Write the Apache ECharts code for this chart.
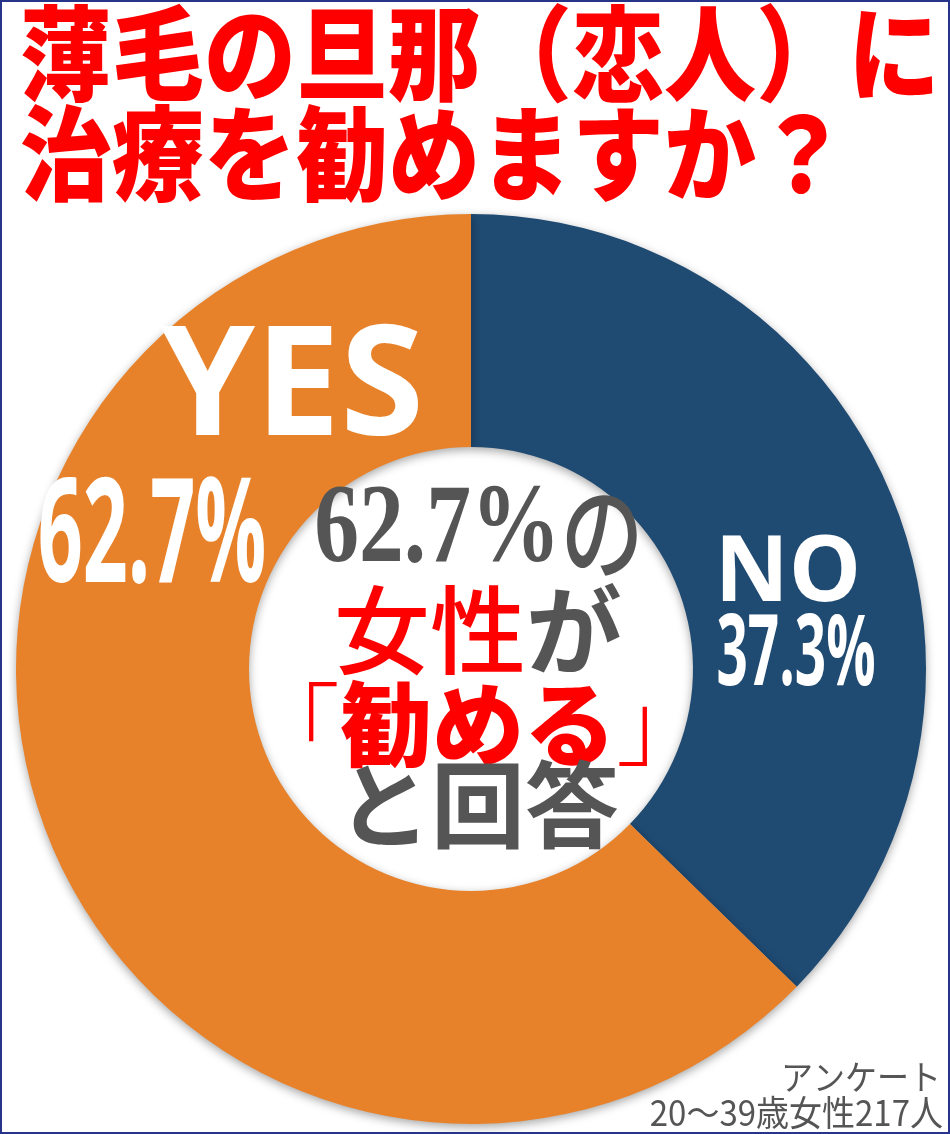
<!DOCTYPE html>
<html>
<head>
<meta charset="utf-8">
<script src="https://cdn.jsdelivr.net/npm/echarts@6/dist/echarts.min.js"></script>
<style>
  html, body { margin: 0; padding: 0; background: #fff; }
  #chart { width: 950px; height: 1134px; }
</style>
</head>
<body>
<div id="chart"></div>
<script>
// アンケート結果
const categories = ["NO", "YES"];
const values = [37.3, 62.7];
const sliceColors = ["#1f4a72", "#e8822a"];
const titleLines = ["薄毛の旦那（恋人）に", "治療を勧めますか？"];
const noteLines = ["アンケート", "20〜39歳女性217人"];

const RED = "#ff0000";
const GRAY = "#555555";
const CJK = '"Noto Sans CJK JP"';
const SERIF = '"Liberation Serif", "DejaVu Serif", ' + CJK;

const pct = (i) => values[i].toFixed(1) + "%";

const chart = echarts.init(document.getElementById("chart"));

const option = {
  animation: false,
  backgroundColor: "#ffffff",
  series: [
    {
      type: "pie",
      center: [471, 669],
      radius: [222, 455],
      startAngle: 90,
      clockwise: true,
      label: { show: false },
      labelLine: { show: false },
      emphasis: { disabled: true },
      itemStyle: {
        borderWidth: 0,
        shadowBlur: 10,
        shadowColor: "rgba(0,0,0,0.35)",
        shadowOffsetY: 3,
      },
      data: categories.map((name, i) => ({
        name,
        value: values[i],
        itemStyle: { color: sliceColors[i] },
      })),
    },
  ],
  graphic: [
    // 外枠
    {
      type: "rect",
      shape: { x: 1, y: 1, width: 948, height: 1132 },
      style: { fill: "none", stroke: "#28348a", lineWidth: 2 },
      z: 100,
    },
    // タイトル
    {
      type: "text",
      x: 20,
      y: 4,
      scaleY: 1.13,
      style: {
        text: titleLines.join("\n"),
        font: "900 92px " + CJK,
        fill: RED,
        lineHeight: 88,
        textAlign: "left",
        textVerticalAlign: "top",
      },
      z: 10,
    },
    // YES ラベル
    {
      type: "text",
      x: 292,
      y: 392,
      style: {
        text: categories[1],
        font: 'bold 152px "Open Sans", "Liberation Sans"',
        fill: "#ffffff",
        textAlign: "center",
        textVerticalAlign: "middle",
      },
      z: 10,
    },
    {
      type: "text",
      x: 152,
      y: 540,
      scaleX: 0.54,
      style: {
        text: pct(1),
        font: 'bold 146px "Open Sans", "Liberation Sans"',
        fill: "#ffffff",
        textAlign: "center",
        textVerticalAlign: "middle",
      },
      z: 10,
    },
    // NO ラベル
    {
      type: "text",
      x: 788,
      y: 575,
      style: {
        text: categories[0],
        font: 'bold 91px "Open Sans", "Liberation Sans"',
        fill: "#ffffff",
        textAlign: "center",
        textVerticalAlign: "middle",
      },
      z: 10,
    },
    {
      type: "text",
      x: 796,
      y: 657,
      scaleX: 0.56,
      style: {
        text: pct(0),
        font: 'bold 98px "Open Sans", "Liberation Sans"',
        fill: "#ffffff",
        textAlign: "center",
        textVerticalAlign: "middle",
      },
      z: 10,
    },
    // 中央のテキスト
    {
      type: "text",
      x: 479,
      y: 532,
      scaleX: 0.8,
      style: {
        text: "{n|" + pct(1) + "}{j|の}",
        textAlign: "center",
        textVerticalAlign: "middle",
        rich: {
          n: { font: "bold 112px " + SERIF, fill: GRAY },
          j: { font: "500 104px " + CJK, fill: GRAY },
        },
      },
      z: 10,
    },
    {
      type: "text",
      x: 478,
      y: 630,
      style: {
        text: "{r|女性}{g|が}",
        textAlign: "center",
        textVerticalAlign: "middle",
        rich: {
          r: { font: "500 96px " + CJK, fill: RED },
          g: { font: "bold 96px " + CJK, fill: GRAY },
        },
      },
      z: 10,
    },
    {
      type: "text",
      x: 478,
      y: 724,
      style: {
        text: "{b|「}{k|勧める}{b|」}",
        textAlign: "center",
        textVerticalAlign: "middle",
        rich: {
          b: { font: "300 90px " + CJK, fill: RED },
          k: { font: "900 92px " + CJK, fill: RED },
        },
      },
      z: 10,
    },
    {
      type: "text",
      x: 478,
      y: 817,
      style: {
        text: "と回答",
        font: "bold 94px " + SERIF,
        fill: GRAY,
        textAlign: "center",
        textVerticalAlign: "middle",
      },
      z: 10,
    },
    // 注記
    {
      type: "text",
      x: 941,
      y: 1077,
      scaleY: 1.08,
      style: {
        text: noteLines[0],
        font: "32px " + CJK,
        fill: GRAY,
        textAlign: "right",
        textVerticalAlign: "middle",
      },
      z: 10,
    },
    {
      type: "text",
      x: 943,
      y: 1112,
      scaleY: 1.08,
      style: {
        text: noteLines[1],
        font: "33px " + CJK,
        fill: GRAY,
        textAlign: "right",
        textVerticalAlign: "middle",
      },
      z: 10,
    },
  ],
};

chart.setOption(option);
</script>
</body>
</html>
